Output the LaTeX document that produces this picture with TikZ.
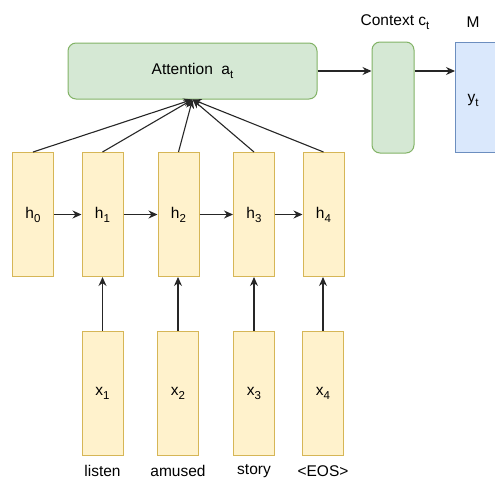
\documentclass[tikz,border=0pt]{standalone}
\usepackage{fontspec}
\setmainfont{Liberation Sans}
\usetikzlibrary{arrows.meta}
\definecolor{yfill}{HTML}{FFF2CC}
\definecolor{ydraw}{HTML}{D6B656}
\definecolor{gfill}{HTML}{D5E8D4}
\definecolor{gdraw}{HTML}{82B366}
\definecolor{bfill}{HTML}{DAE8FC}
\definecolor{bdraw}{HTML}{6C8EBF}
\newcommand{\mysub}[1]{\raisebox{-4pt}{\fontsize{11.5}{11.5}\selectfont #1}}
\begin{document}
\begin{tikzpicture}[x=1pt,y=-1pt,
  every node/.style={font=\fontsize{15.5}{18}\selectfont},
  ybox/.style={draw=ydraw,fill=yfill,line width=1pt,minimum width=41pt,minimum height=124pt,inner sep=0pt},
  gbox/.style={draw=gdraw,fill=gfill,line width=1pt,rounded corners=8pt,inner sep=0pt},
  bbox/.style={draw=bdraw,fill=bfill,line width=1pt,inner sep=0pt},
  conn/.style={line width=1.1pt,draw=black!85,-{Stealth[length=9pt,width=8pt]}},
  lbl/.style={inner sep=0pt}]
\clip (0,0) rectangle (495,477);
% attention
\node[gbox,minimum width=249pt,minimum height=56pt] (att) at (192.5,71) {Attention\ \ a\mysub{t}};
\node[gbox,minimum width=42pt,minimum height=111pt] (ctx) at (393,97.5) {};
\node[bbox,minimum width=42pt,minimum height=110pt,anchor=north west] (m) at (455,42) {};
\node[lbl] (yt) at (473,100) {y\mysub{t}};
\node[lbl] (ctxl) at (395,22) {Context c\mysub{t}};
\node[lbl] (ml) at (473,22) {M};
% hidden
\node[ybox] (h0) at (33,214.5) {h\mysub{0}};
\node[ybox] (h1) at (102.5,214.5) {h\mysub{1}};
\node[ybox] (h2) at (178.5,214.5) {h\mysub{2}};
\node[ybox] (h3) at (254,214.5) {h\mysub{3}};
\node[ybox] (h4) at (323.5,214.5) {h\mysub{4}};
% inputs
\node[ybox] (x1) at (102.5,393) {x\mysub{1}};
\node[ybox] (x2) at (178,393) {x\mysub{2}};
\node[ybox] (x3) at (254,393) {x\mysub{3}};
\node[ybox] (x4) at (323,393) {x\mysub{4}};
\node[lbl] (w1) at (102.5,471) {listen};
\node[lbl] (w2) at (178,471) {amused};
\node[lbl] (w3) at (254,471) {story};
\node[lbl] (w4) at (323,471) {<EOS>};
% connectors
\draw[conn] (att.east) -- (ctx.west |- att.east);
\draw[conn] (ctx.east |- att.east) -- (m.west |- att.east);
\foreach \h in {h0,h1,h2,h3,h4} \draw[conn] (\h.north) -- (att.south);
\draw[conn] (h0) -- (h1);
\draw[conn] (h1) -- (h2);
\draw[conn] (h2) -- (h3);
\draw[conn] (h3) -- (h4);
\draw[conn] (x1.north) -- (h1.south);
\draw[conn] (x2.north) -- (h2.south -| x2.north);
\draw[conn] (x3.north) -- (h3.south);
\draw[conn] (x4.north) -- (h4.south -| x4.north);
\end{tikzpicture}
\end{document}
